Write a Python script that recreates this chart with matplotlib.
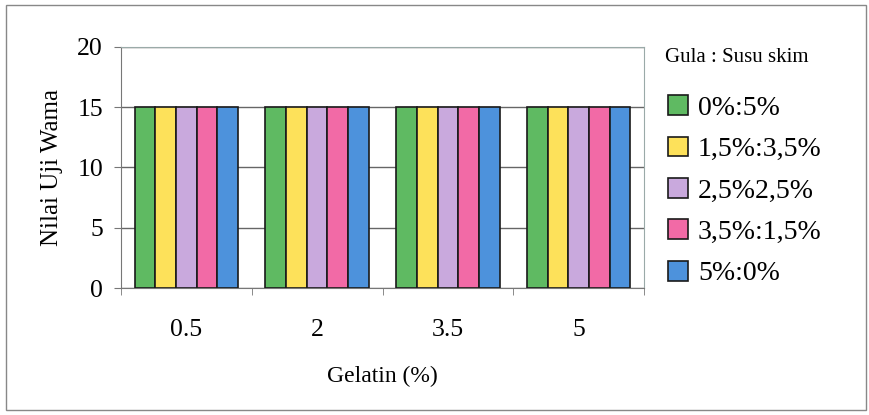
import matplotlib.pyplot as plt
import numpy as np
from matplotlib.patches import Rectangle

plt.rcParams['font.family'] = ['Liberation Serif', 'DejaVu Serif']

gelatin = ['0.5', '2', '3.5', '5']
ratios = ['0%:5%', '1,5%:3,5%', '2,5%2,5%', '3,5%:1,5%', '5%:0%']
nilai = [
    [15, 15, 15, 15],
    [15, 15, 15, 15],
    [15, 15, 15, 15],
    [15, 15, 15, 15],
    [15, 15, 15, 15],
]
colors = ['#5fba62', '#fde15a', '#c9a9dd', '#f26aa6', '#4d92dc']

fig = plt.figure(figsize=(8.7, 4.15), dpi=100)
W, H = 870, 415
ax = fig.add_axes([121 / W, 1 - 288 / H, (644 - 121) / W, (288 - 47) / H])

x = np.arange(len(gelatin))
bw = 0.158
for i, (lab, vals) in enumerate(zip(ratios, nilai)):
    ax.bar(x + (i - 2) * bw, vals, bw, color=colors[i], edgecolor='#1a1a1a',
           linewidth=1.2, label=lab, zorder=3)

ax.set_xlim(-0.5, len(gelatin) - 0.5)
ax.set_ylim(0, 20)
ax.set_yticks([0, 5, 10, 15, 20])
ax.set_xticks(x)
ax.set_xticklabels(gelatin)
ax.set_xticks(np.arange(-0.5, len(gelatin), 1), minor=True)
ax.tick_params(axis='x', which='major', length=0, pad=22, labelsize=18.5)
ax.tick_params(axis='x', which='minor', length=5, color='#777777')
ax.tick_params(axis='y', length=5, color='#777777', labelsize=18.5, pad=8)
ax.grid(axis='y', color='#666666', linewidth=1, zorder=0)

for side in ['left', 'bottom']:
    ax.spines[side].set_color('#777777')
for side in ['top', 'right']:
    ax.spines[side].set_color('#9aaaa8')

ax.set_ylabel('Nilai Uji Wama', fontsize=18, labelpad=10)
ax.set_xlabel('Gelatin (%)', fontsize=17, labelpad=18)

# legend title drawn separately so the gap below it can be set freely
fig.text(665 / W, 1 - 58 / H, 'Gula : Susu skim', fontsize=15,
         ha='left', va='center')
leg = ax.legend(loc='upper left', bbox_to_anchor=(657 / W, 1 - 84 / H),
                bbox_transform=fig.transFigure, frameon=False, fontsize=20,
                handlelength=0.72, handleheight=0.72, handletextpad=0.35,
                labelspacing=0.57, borderaxespad=0)

fig.patches.append(Rectangle((6 / W, 5 / H), 860 / W, 405 / H,
                             transform=fig.transFigure, fill=False,
                             edgecolor='#888888', linewidth=1))

fig.savefig('out.png', dpi=100)
